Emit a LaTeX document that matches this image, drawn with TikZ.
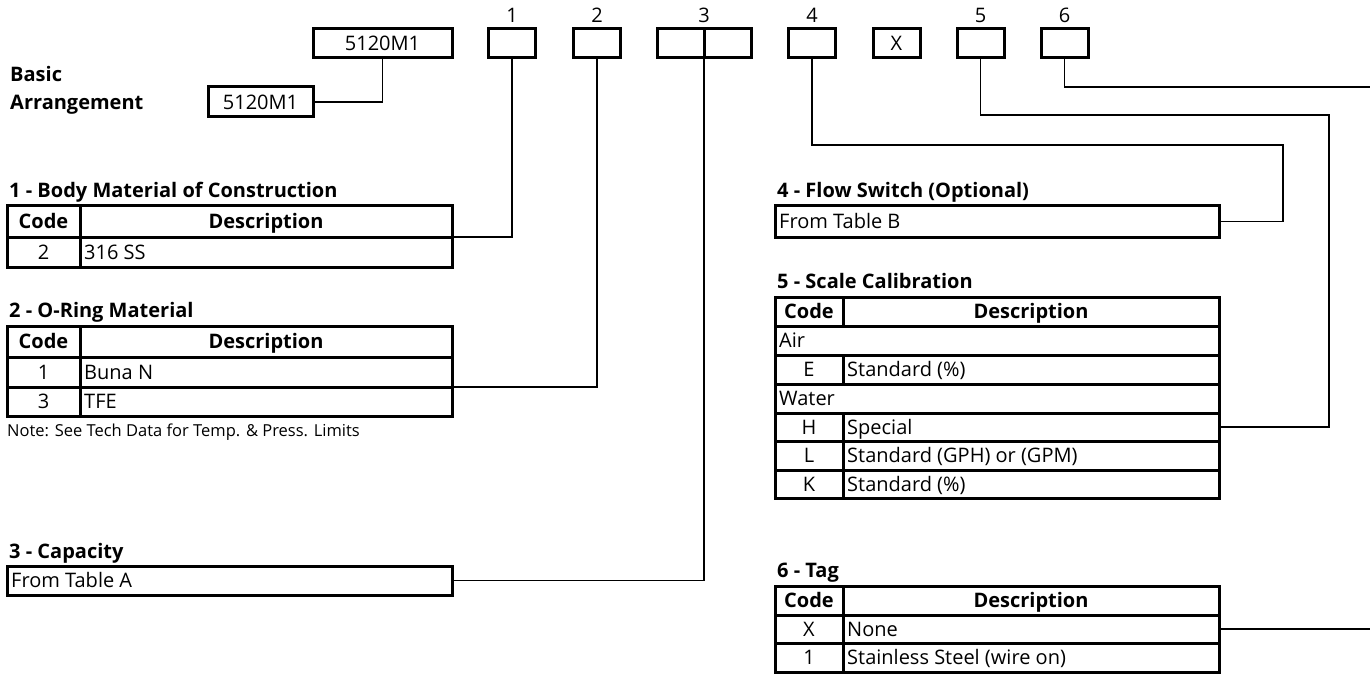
\documentclass[tikz,border=0pt]{standalone}
\usepackage{fontspec}
\setmainfont{Open Sans}
\usetikzlibrary{positioning}

\tikzset{
  kasten/.style={draw,line width=3pt,minimum width=47pt,minimum height=29pt,inner sep=0pt,font=\fontsize{20}{24}\selectfont},
  tab/.style={line width=3pt},
  verb/.style={line width=1.5pt},
  zeile/.style={inner sep=0pt,text height=14.3pt,text depth=0pt},
  txt/.style={zeile,anchor=west,font=\fontsize{20}{24}\selectfont},
  ctxt/.style={zeile,font=\fontsize{20}{24}\selectfont},
  ktxt/.style={zeile,font=\fontsize{20}{24}\selectfont\bfseries},
  titel/.style={zeile,anchor=west,font=\fontsize{20}{23}\selectfont\bfseries},
}

\begin{document}
\begin{tikzpicture}[x=1pt,y=-1pt]
  \useasboundingbox (0,0) rectangle (1370,695);
  % Bestellschluessel oben
  \node[kasten,minimum width=139pt] (basis) at (382.5,43.5) {5120M1};
  \node[kasten] (k1) at (512,43.5) {};
  \node[kasten] (k2) at (597,43.5) {};
  \node[kasten,minimum width=94pt] (k3) at (704,43.5) {};
  \draw[tab] (k3.north) -- (k3.south);
  \node[kasten] (k4) at (812,43.5) {};
  \node[kasten] (kx) at (896.5,43.5) {X};
  \node[kasten] (k5) at (980.5,43.5) {};
  \node[kasten] (k6) at (1064.5,43.5) {};
  \node[ctxt] (n1) at (512,15) {1};
  \node[ctxt] (n2) at (597,15) {2};
  \node[ctxt] (n3) at (704,15) {3};
  \node[ctxt] (n4) at (812,15) {4};
  \node[ctxt] (n5) at (980.5,15) {5};
  \node[ctxt] (n6) at (1064.5,15) {6};
  % Grundausfuehrung
  \node[titel] (basic) at (10,74) {Basic};
  \node[titel] (arr) at (10,102) {Arrangement};
  \node[kasten,minimum width=105pt,minimum height=30pt] (klein) at (260.5,102) {5120M1};
  \draw[verb] (basis.south) |- (klein.east);

  % 1 - Werkstoff
  \node[titel] (ti1) at (9,190) {1 - Body Material of Construction};
  \draw[tab] (7,206) rectangle (452,267) (7,237) -- (452,237) (80,206) -- (80,267);
  \node[ktxt] (c1) at (43.5,221.5) {Code};
  \node[ktxt] (d1) at (266,221.5) {Description};
  \node[ctxt] (c1a) at (43.5,252) {2};
  \node[txt] (d1a) at (84,252) {316 SS};
  \coordinate (t1r) at (452,237);

  % 2 - O-Ring
  \node[titel] (ti2) at (9,310) {2 - O-Ring Material};
  \draw[tab] (7,326) rectangle (452,416) (7,357) -- (452,357) (7,387) -- (452,387) (80,326) -- (80,416);
  \node[ktxt] (c2) at (43.5,341.5) {Code};
  \node[ktxt] (d2) at (266,341.5) {Description};
  \node[ctxt] (c2a) at (43.5,372) {1};
  \node[txt] (d2a) at (84,372) {Buna N};
  \node[ctxt] (c2b) at (43.5,401.5) {3};
  \node[txt] (d2b) at (84,401.5) {TFE};
  \node[txt,font=\fontsize{16.5}{19}\selectfont,text height=11.8pt] (note) at (7,431) {Note: See Tech Data for Temp. \& Press. Limits};
  \coordinate (t2r) at (452,387);

  % 3 - Durchfluss
  \node[titel] (ti3) at (9,551) {3 - Capacity};
  \draw[tab] (7,566) rectangle (452,595);
  \node[txt] (d3) at (11,580.5) {From Table A};
  \coordinate (t3r) at (452,580.5);

  % 4 - Schalter
  \node[titel] (ti4) at (777,190) {4 - Flow Switch (Optional)};
  \draw[tab] (775,206) rectangle (1219,237);
  \node[txt] (d4) at (779,221.5) {From Table B};
  \coordinate (t4r) at (1219,221.5);

  % 5 - Skala
  \node[titel] (ti5) at (777,281) {5 - Scale Calibration};
  \draw[tab] (775,297) rectangle (1219,498);
  \draw[tab] \foreach\y in {326,355,384,413,441,470} { (775,\y) -- (1219,\y) };
  \draw[tab] (843,297) -- (843,326) (843,355) -- (843,384) (843,413) -- (843,498);
  \node[ktxt] (c5) at (809,311.5) {Code};
  \node[ktxt] (d5) at (1031,311.5) {Description};
  \node[txt] (air) at (779,340.5) {Air};
  \node[ctxt] (c5e) at (809,369.5) {E};
  \node[txt] (d5e) at (847,369.5) {Standard (\%)};
  \node[txt] (wat) at (779,398.5) {Water};
  \node[ctxt] (c5h) at (809,427) {H};
  \node[txt] (d5h) at (847,427) {Special};
  \node[ctxt] (c5l) at (809,455.5) {L};
  \node[txt] (d5l) at (847,455.5) {Standard (GPH) or (GPM)};
  \node[ctxt] (c5k) at (809,484) {K};
  \node[txt] (d5k) at (847,484) {Standard (\%)};
  \coordinate (t5r) at (1219,427);

  % 6 - Schild
  \node[titel] (ti6) at (777,570) {6 - Tag};
  \draw[tab] (775,586) rectangle (1219,672) (775,615) -- (1219,615) (775,643) -- (1219,643) (843,586) -- (843,672);
  \node[ktxt] (c6) at (809,600.5) {Code};
  \node[ktxt] (d6) at (1031,600.5) {Description};
  \node[ctxt] (c6x) at (809,629) {X};
  \node[txt] (d6x) at (847,629) {None};
  \node[ctxt] (c6a) at (809,657.5) {1};
  \node[txt] (d6a) at (847,657.5) {Stainless Steel (wire on)};
  \coordinate (t6r) at (1219,629);

  % Verbindungslinien
  \coordinate (w4) at (1283,145);
  \coordinate (w5) at (1329,115);
  \coordinate (w6) at (1370,87);
  \coordinate (w7) at (1370,629);
  \draw[verb] (k1.south) |- (t1r);
  \draw[verb] (k2.south) |- (t2r);
  \draw[verb] (k3.south) |- (t3r);
  \draw[verb] (k4.south) |- (w4) |- (t4r);
  \draw[verb] (k5.south) |- (w5) |- (t5r);
  \draw[verb] (k6.south) |- (w6);
  \draw[verb] (t6r) -- (w7);
\end{tikzpicture}
\end{document}
